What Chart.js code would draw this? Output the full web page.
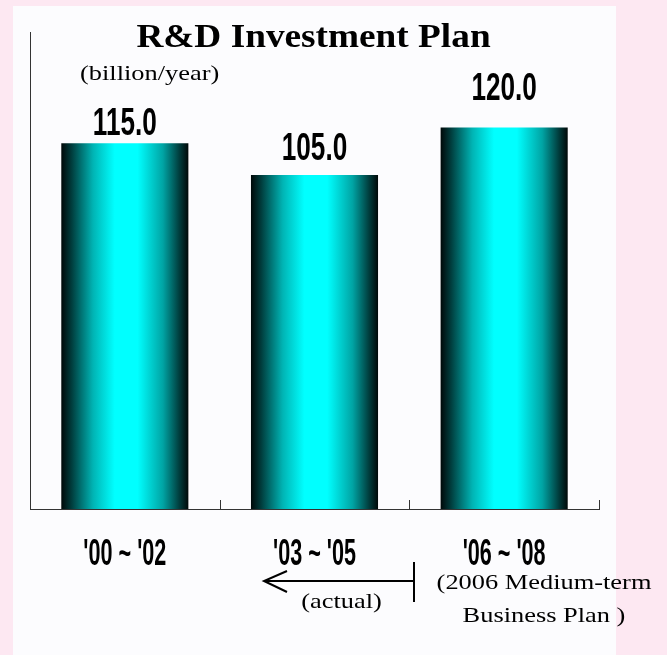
<!DOCTYPE html>
<html>
<head>
<meta charset="utf-8">
<title>R&amp;D Investment Plan</title>
<script src="https://cdn.jsdelivr.net/npm/chart.js@4/dist/chart.umd.min.js"></script>
<style>
  html, body { margin: 0; padding: 0; background: #fde8f2; }
  #rd-chart { display: block; }
</style>
</head>
<body>
<canvas id="rd-chart" width="667" height="655"></canvas>
<script>
// periods on the x axis and planned / actual spend per period (billion yen a year)
const periods = ["'00 ~ '02", "'03 ~ '05", "'06 ~ '08"]
const investment = [115.0, 105.0, 120.0]
const axisMin = 0
const axisMax = 150

//helper: draw text squeezed or stretched horizontally
function drawText(ctx, text, x, y, font, sx, align) {
    ctx.save()
    ctx.translate(x, y)
    ctx.scale(sx, 1)
    ctx.font = font
    ctx.textAlign = align || 'center'
    ctx.textBaseline = 'alphabetic'
    ctx.fillStyle = '#000'
    ctx.fillText(text, 0, 0)
    ctx.restore()
}

//cyan cylinder look: dark edges, bright middle
function barGradient(context) {
    const chart = context.chart
    const xScale = chart.scales.x
    if (!xScale || !chart.chartArea) return '#00ffff'
    const cx = xScale.getPixelForValue(context.dataIndex)
    const half = (xScale.width / periods.length) * 0.67 / 2
    const g = chart.ctx.createLinearGradient(cx - half, 0, cx + half, 0)
    g.addColorStop(0, '#000808')
    g.addColorStop(0.08, '#003c3c')
    g.addColorStop(0.25, '#00b4b4')
    g.addColorStop(0.42, '#00ffff')
    g.addColorStop(0.6, '#00ffff')
    g.addColorStop(0.8, '#00a4a4')
    g.addColorStop(0.93, '#003c3c')
    g.addColorStop(1, '#000808')
    return g
}

const panelPlugin = {
    id: 'panel',
    beforeDraw(chart) {
        const ctx = chart.ctx
        ctx.save()
        ctx.fillStyle = '#fcfcfe'
        ctx.fillRect(13, 6, 603, 649)
        ctx.restore()
    }
}

const labelPlugin = {
    id: 'labels',
    afterDraw(chart, args, opts) {
        const ctx = chart.ctx
        const xScale = chart.scales.x
        const area = chart.chartArea
        const bars = chart.getDatasetMeta(0).data

        //small upward ticks between categories
        ctx.save()
        ctx.strokeStyle = '#333'
        ctx.lineWidth = 1
        for (let i = 1; i <= periods.length; i++) {
            const x = Math.round(xScale.left + i * xScale.width / periods.length) + 0.5
            ctx.beginPath()
            ctx.moveTo(x, area.bottom)
            ctx.lineTo(x, area.bottom - 9)
            ctx.stroke()
        }
        ctx.restore()

        //value above each bar
        bars.forEach((bar, i) => {
            drawText(ctx, investment[i].toFixed(1), bar.x, bar.y - opts.valueGap[i],
                'bold 39px "Liberation Sans", Arial, sans-serif', 0.67)
        })

        //period names under the axis
        periods.forEach((p, i) => {
            drawText(ctx, p, xScale.getPixelForValue(i), area.bottom + 56,
                'bold 36px "Liberation Sans", Arial, sans-serif', 0.6)
        })

        const serif = '"Liberation Serif", "Times New Roman", serif'
        drawText(ctx, 'R&D Investment Plan', 313.5, 47, 'bold 33px ' + serif, 1.13)
        drawText(ctx, '(billion/year)', 80, 80, '22px ' + serif, 1.2, 'left')
        drawText(ctx, '(actual)', 341.5, 608, '22px ' + serif, 1.2)
        drawText(ctx, '(2006 Medium-term', 544, 589, '22px ' + serif, 1.2)
        drawText(ctx, 'Business Plan )', 544, 622, '22px ' + serif, 1.2)

        //arrow back from the plan boundary
        ctx.save()
        ctx.strokeStyle = '#000'
        ctx.lineWidth = 2
        ctx.beginPath()
        ctx.moveTo(414, 581)
        ctx.lineTo(264, 581)
        ctx.moveTo(287, 571)
        ctx.lineTo(264, 581)
        ctx.lineTo(287, 592)
        ctx.moveTo(414, 562)
        ctx.lineTo(414, 602)
        ctx.stroke()
        ctx.restore()
    }
}

const canvas = document.querySelector('#rd-chart')
new Chart(canvas.getContext('2d'), {
    type: 'bar',
    data: {
        labels: periods,
        datasets: [{
            label: 'R&D investment',
            data: investment,
            backgroundColor: barGradient,
            borderWidth: 0,
            categoryPercentage: 0.67,
            barPercentage: 1
        }]
    },
    options: {
        responsive: false,
        animation: false,
        layout: { padding: { left: 30, right: 68, top: 32, bottom: 146 } },
        plugins: {
            legend: { display: false },
            tooltip: { enabled: false },
            labels: { valueGap: [8, 15, 27] }
        },
        scales: {
            x: {
                grid: { display: false, drawTicks: false },
                ticks: { display: false },
                border: { display: true, color: '#333', width: 1 }
            },
            y: {
                min: axisMin,
                max: axisMax,
                grid: { display: false, drawTicks: false },
                ticks: { display: false },
                border: { display: true, color: '#333', width: 1 }
            }
        }
    },
    plugins: [panelPlugin, labelPlugin]
})
</script>
</body>
</html>
